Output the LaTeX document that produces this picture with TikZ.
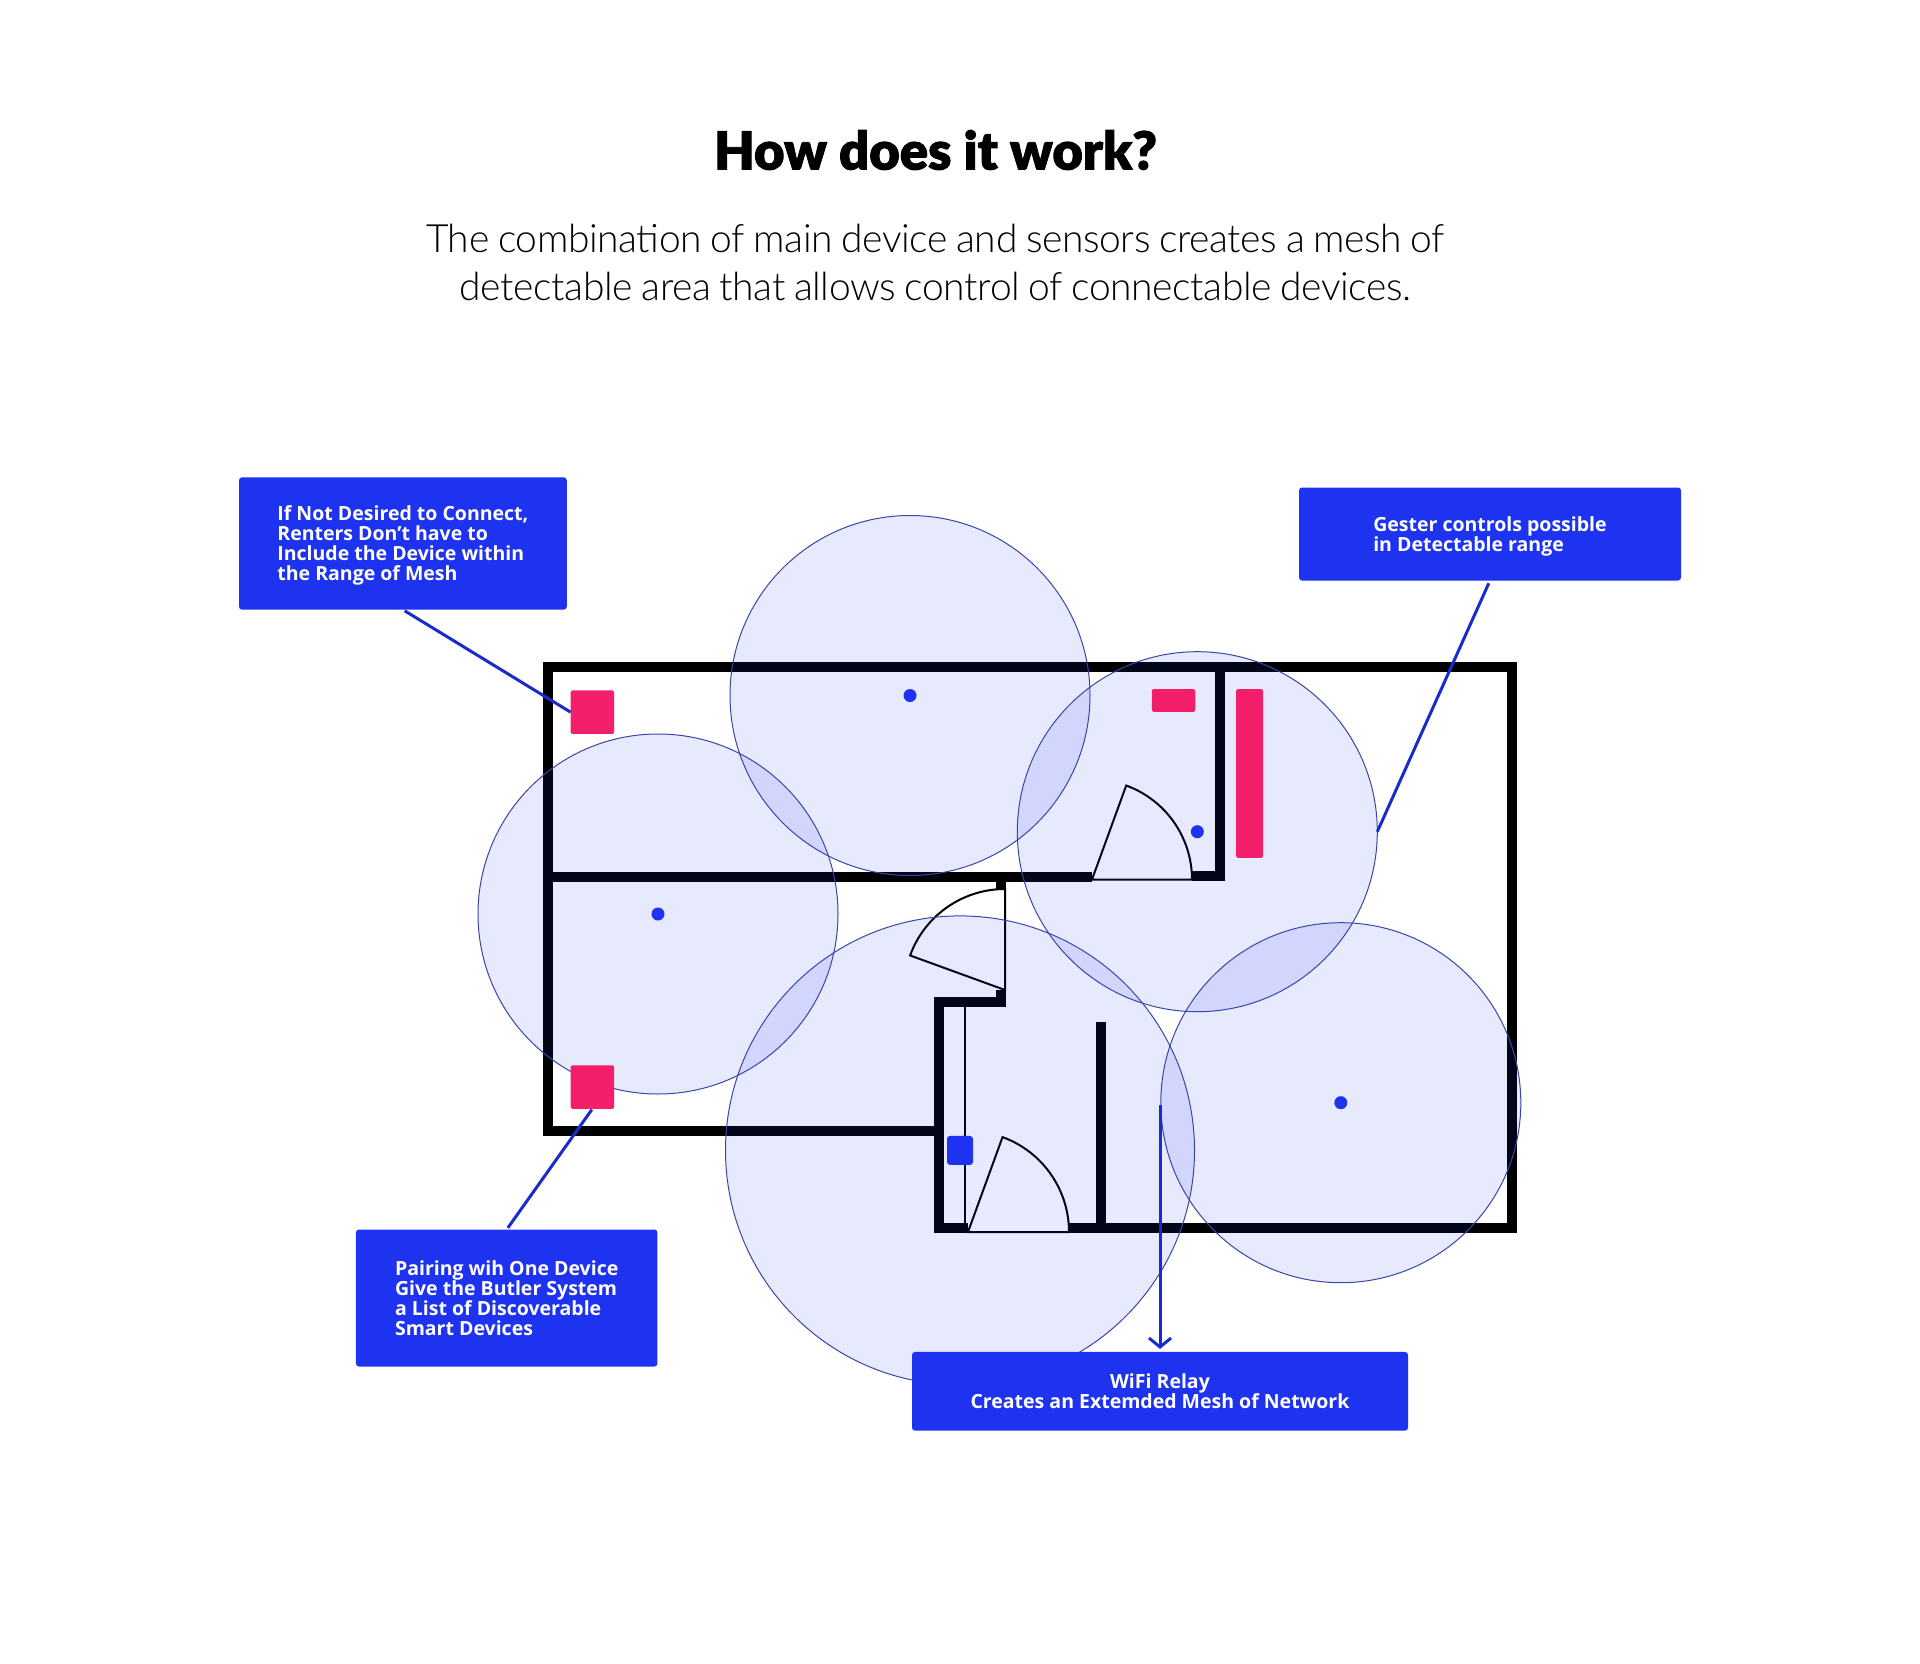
\documentclass[tikz,border=0pt]{standalone}
\usepackage{fontspec}
\usetikzlibrary{arrows.meta,positioning}
\setmainfont{Open Sans}
\newfontfamily\ttlfont{Lato Black}[FakeBold=1.8]
\newfontfamily\subfont{Lato Light}[LetterSpace=-1.0,WordSpace=0.85]
\newfontfamily\boxfont{Open Sans Bold}
\definecolor{cblue}{HTML}{1E33F0}
\definecolor{cpink}{HTML}{F31F6B}
\definecolor{cring}{HTML}{3A45A8}
\definecolor{cwall}{HTML}{000000}
\tikzset{
  wall/.style={cwall, line width=10pt, line join=miter},
  doorln/.style={cwall, line width=2pt, line join=miter},
  ring/.style={circle, draw=cring, line width=1pt, fill=cblue, fill opacity=0.105, inner sep=0pt, outer sep=0pt},
  hub/.style={circle, fill=cblue, inner sep=0pt, minimum size=13pt},
  pinkbox/.style={fill=cpink, rounded corners=1.5pt, inner sep=0pt, outer sep=0pt},
  lab/.style={fill=cblue, text=white, rounded corners=3pt, inner sep=0pt, outer sep=0pt, align=left, text depth=0pt, font=\boxfont\fontsize{19.5}{20}\selectfont},
  lnk/.style={cblue!85!black, line width=3pt},
}
\begin{document}
\begin{tikzpicture}[x=1pt,y=-1pt]
  \useasboundingbox (0,0) rectangle (1920,1664);
  % walls
  \draw[wall] (1069,1228.3) -- (1511.7,1228.3) -- (1511.7,667.2) -- (547.7,667.2) -- (547.7,1130.5) -- (934,1130.5);
  \draw[wall] (968,1228.3) -- (938.8,1228.3) -- (938.8,1001.5) -- (1000.8,1001.5) -- (1000.8,990);
  \draw[wall] (547.7,876.5) -- (1092,876.5);
  \draw[wall] (1192,876) -- (1219.7,876) -- (1219.7,667.2);
  \draw[wall] (1000.8,876) -- (1000.8,889);
  \draw[wall] (1100.5,1021.7) -- (1100.5,1224);
  \draw[cwall, line width=1.8pt] (965,1006) -- (965,1224);
  % doors
  \draw[doorln] (1092,879.5) -- (1192,879.5) arc[start angle=0, end angle=-70, radius=100] -- cycle;
  \draw[doorln] (1005,990) -- (1005,889) arc[start angle=-90, end angle=-160, radius=101] -- cycle;
  \draw[doorln] (968,1232) -- (1069,1232) arc[start angle=0, end angle=-70, radius=101] -- cycle;
  % mesh
  \node[ring, minimum size=360pt] (rngA) at (910,695.5) {};
  \node[ring, minimum size=360pt] (rngB) at (1197.3,831.7) {};
  \node[ring, minimum size=360pt] (rngC) at (658,914) {};
  \node[ring, minimum size=360pt] (rngD) at (1340.8,1102.7) {};
  \node[ring, minimum size=469pt] (rngE) at (960,1150.4) {};
  \node[hub] (hubA) at (rngA) {};
  \node[hub] (hubB) at (rngB) {};
  \node[hub] (hubC) at (rngC) {};
  \node[hub] (hubD) at (rngD) {};
  \node[fill=cblue, rounded corners=3pt, inner sep=0pt, minimum width=26pt, minimum height=29pt] (relay) at (rngE) {};
  % devices
  \node[pinkbox, minimum width=43.5pt, minimum height=43.5pt] (devA) at (592.4,712.2) {};
  \node[pinkbox, minimum width=43.5pt, minimum height=43.5pt] (devB) at (592.4,1087) {};
  \node[pinkbox, minimum width=43.5pt, minimum height=22.7pt] (devC) at (1173.5,700.4) {};
  \node[pinkbox, minimum width=27pt, minimum height=168.7pt] (devD) at (1249.5,773.4) {};
  % labels
  \node[lab, minimum width=327.7pt, minimum height=132.4pt] (labA) at (402.9,543.5)
    {If Not Desired to Connect,\\Renters Don’t have to\\Include the Device within\\the Range of Mesh};
  \node[lab, minimum width=382pt, minimum height=93pt] (labB) at (1490,534)
    {Gester controls possible\\in Detectable range};
  \node[lab, minimum width=301.5pt, minimum height=137pt] (labC) at (506.7,1298)
    {Pairing wih One Device\\Give the Butler System\\a List of Discoverable\\Smart Devices};
  \node[lab, align=center, minimum width=496pt, minimum height=78.7pt] (labD) at (1160,1391.3)
    {WiFi Relay\\Creates an Extemded Mesh of Network};
  \coordinate (rlyend) at (1160,1105);
  \draw[lnk, shorten <=2pt] (labA.south) -- (devA.west);
  \draw[lnk, shorten <=3pt] (labB.south) -- (rngB.east);
  \draw[lnk, shorten <=1pt, shorten >=2pt] (devB.south) -- (labC.north);
  \draw[lnk, -{Straight Barb[length=9pt,width=22pt]}, shorten >=3pt] (rlyend) -- (labD.north);
  % heading
  \node[font=\ttlfont\fontsize{52.5}{52.5}\selectfont] (ttl) at (935.5,150) {How does it work?};
  \node[font=\subfont\fontsize{39}{48}\selectfont, align=center, below=47.5pt of ttl] (sub)
    {The combination of main device and sensors creates a mesh of\\detectable area that allows control of connectable devices.};
\end{tikzpicture}
\end{document}
